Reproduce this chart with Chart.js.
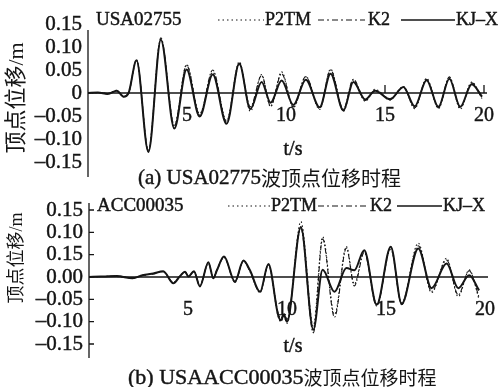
<!DOCTYPE html>
<html>
<head>
<meta charset="utf-8">
<script src="https://cdn.jsdelivr.net/npm/chart.js@4.4.1/dist/chart.umd.min.js"></script>
<style>
  body { margin: 0; background: #fff; }
  canvas { display: block; }
</style>
</head>
<body>
<canvas id="chartA" width="499" height="190"></canvas>
<canvas id="chartB" width="499" height="197"></canvas>
<script>
// (a) USA02775 - time (s) and top displacement (m)
const timeA = [0, 0.5, 1.0, 1.45, 1.8, 2.05, 2.45, 3.05, 3.68, 4.36, 4.98, 5.64, 6.3, 7.0, 7.64, 8.2,
  8.77, 9.22, 9.78, 10.37, 11.0, 11.7, 12.25, 12.9, 13.4, 14.0, 14.5, 15.25, 15.93, 16.5, 17.1,
  17.7, 18.25, 18.8, 19.38, 19.9];
const kjxA = [0, 0.001, -0.002, 0.005, -0.008, 0, 0.071, -0.128, 0.116, -0.077, 0.051, -0.051, 0.040, -0.067, 0.064, -0.035,
  0.024, -0.021, 0.027, -0.026, 0.029, -0.031, 0.042, -0.038, 0.024, -0.014, 0.005, -0.014, 0.013, -0.029, 0.028,
  -0.030, 0.031, -0.030, 0.019, -0.008];
const k2A = [0, 0.001, -0.002, 0.006, -0.008, 0, 0.072, -0.126, 0.12, -0.072, 0.06, -0.048, 0.05, -0.063, 0.062, -0.03,
  0.038, -0.028, 0.042, -0.03, 0.036, -0.034, 0.05, -0.035, 0.03, -0.016, 0.006, -0.012, 0.012, -0.032, 0.03,
  -0.032, 0.035, -0.032, 0.022, -0.01];
const p2tmA = [0, 0.001, -0.001, 0.005, -0.007, 0, 0.07, -0.124, 0.118, -0.07, 0.062, -0.045, 0.045, -0.06, 0.068, -0.04,
  0.04, -0.03, 0.046, -0.032, 0.035, -0.036, 0.052, -0.04, 0.028, -0.018, 0.008, -0.015, 0.014, -0.034, 0.032,
  -0.034, 0.034, -0.035, 0.024, -0.012];

// (b) USAACC00035
const timeB = [0, 0.6, 1.4, 2.2, 2.7, 3.25, 3.75, 4.26, 4.6, 4.85, 5.02, 5.3, 5.6, 6.03, 6.28, 6.45, 6.82, 7.37,
  7.8, 8.13, 8.64, 9.06, 9.55, 9.7, 9.84, 10.0, 10.7, 11.33, 11.8, 12.4, 13.0, 13.4, 13.9, 14.53, 15.24,
  15.79, 16.63, 17.3, 18.06, 18.65, 19.2, 19.7];
const kjxB = [0, 0.001, 0.002, -0.003, 0.004, 0.008, 0.013, -0.014, 0.002, 0.012, 0.001, 0.013, -0.021, 0.033, -0.003, 0.014, 0.046, -0.01,
  0.037, 0.015, -0.033, 0.029, -0.085, -0.097, -0.084, -0.1, 0.112, -0.118, 0.016, -0.033, 0.02, 0.015, 0.06, -0.062, 0.068,
  -0.06, 0.064, -0.025, 0.03, -0.025, 0.004, -0.03];
const k2B = [0, 0.001, 0.002, -0.002, 0.004, 0.007, 0.012, -0.012, 0.003, 0.011, 0.002, 0.012, -0.018, 0.03, -0.002, 0.015, 0.044, -0.012,
  0.035, 0.012, -0.035, 0.027, -0.08, -0.092, -0.08, -0.095, 0.108, -0.125, 0.085, -0.09, 0.065, -0.02, 0.055, -0.065, 0.066,
  -0.062, 0.07, -0.032, 0.038, -0.04, 0.014, -0.045];
const p2tmB = [0, 0.001, 0.001, -0.002, 0.003, 0.008, 0.012, -0.013, 0.002, 0.012, 0.001, 0.012, -0.02, 0.032, -0.004, 0.013, 0.045, -0.011,
  0.036, 0.014, -0.034, 0.028, -0.088, -0.1, -0.088, -0.104, 0.124, -0.11, 0.09, -0.084, 0.068, -0.016, 0.058, -0.06, 0.062,
  -0.058, 0.076, -0.035, 0.042, -0.044, 0.016, -0.05];

// axis ticks
const yTicks = [0.15, 0.10, 0.05, 0, -0.05, -0.10, -0.15];
const yLabelsA = ['0.15', '0.10', '0.05', '0', '–0.05', '–0.10', '–0.15'];
const yLabelsB = ['0.15', '0.10', '0.15', '0.00', '–0.05', '–0.10', '–0.15'];
const xTicks = [5, 10, 15, 20];
const xLabels = ['5', '10', '15', '20'];

const SERIF = '"Liberation Serif", "Noto Sans CJK SC", serif';
const CJK = '"Noto Sans CJK SC", sans-serif';
const INK = '#151515';

function points(t, v) {
  return t.map((x, i) => ({ x: x, y: v[i] }));
}

// text with a thin outline so it looks as heavy as the scanned figure
function heavyText(ctx, s, x, y) {
  ctx.fillText(s, x, y);
  ctx.strokeText(s, x, y);
}

// draws axes, labels, legend and caption around the plot
const figureText = {
  id: 'figureText',
  beforeDatasetsDraw(chart, args, o) {
    const ctx = chart.ctx, a = chart.chartArea;
    const y0 = chart.scales.y.getPixelForValue(0);
    ctx.save();
    ctx.strokeStyle = INK;
    ctx.lineWidth = 1.3;
    ctx.beginPath();
    ctx.moveTo(a.left, a.top);
    ctx.lineTo(a.left, a.bottom);
    ctx.moveTo(a.left, y0);
    ctx.lineTo(a.right + 3, y0);
    if (o.yTickMarks) {
      yTicks.forEach(v => {
        if (v === 0) return;
        const py = chart.scales.y.getPixelForValue(v);
        ctx.moveTo(a.left, py);
        ctx.lineTo(a.left + 5, py);
      });
    }
    o.zeroTicks.forEach(v => {
      const px = chart.scales.x.getPixelForValue(v);
      ctx.moveTo(px, y0);
      ctx.lineTo(px, y0 - 8);
    });
    ctx.stroke();
    ctx.restore();
  },
  afterDraw(chart, args, o) {
    const ctx = chart.ctx, a = chart.chartArea;
    const xs = chart.scales.x, ys = chart.scales.y;
    const y0 = ys.getPixelForValue(0);
    ctx.save();
    ctx.fillStyle = INK;
    ctx.strokeStyle = INK;
    ctx.lineWidth = 0.45;
    ctx.textBaseline = 'middle';

    // y tick labels
    ctx.font = o.tickSize + 'px ' + SERIF;
    ctx.textAlign = 'right';
    yTicks.forEach((v, i) => heavyText(ctx, o.yLabels[i], a.left - 6, ys.getPixelForValue(v)));

    // x tick labels, just under the zero line
    ctx.font = '20px ' + SERIF;
    ctx.textAlign = 'center';
    xTicks.forEach((v, i) => heavyText(ctx, xLabels[i], xs.getPixelForValue(v), y0 + o.xLabelDy));
    heavyText(ctx, 't/s', 293, o.tsY);

    // y title
    ctx.save();
    ctx.translate(o.titleX, o.titleY);
    ctx.rotate(-Math.PI / 2);
    ctx.font = o.titleSize + 'px ' + SERIF;
    ctx.fillText('顶点位移/m', 0, 0);
    ctx.restore();

    // station name and legend
    ctx.textAlign = 'left';
    ctx.font = '19px ' + SERIF;
    heavyText(ctx, o.station, a.left + 8, o.legendY);
    ctx.font = '18px ' + SERIF;
    const L = o.legend;
    const seg = (x1, x2, dash, w) => {
      ctx.save();
      ctx.setLineDash(dash);
      ctx.lineWidth = w;
      ctx.beginPath();
      ctx.moveTo(x1, o.legendY);
      ctx.lineTo(x2, o.legendY);
      ctx.stroke();
      ctx.restore();
    };
    seg(L[0], L[1], [1.5, 3], 1.2);
    heavyText(ctx, 'P2TM', L[1] + 1, o.legendY);
    seg(L[2], L[3], [6, 3, 2, 3], 1.2);
    heavyText(ctx, 'K2', L[3] + 3, o.legendY);
    seg(L[4], L[5], [], 1.6);
    heavyText(ctx, 'KJ–X', L[5] + 1, o.legendY);

    // caption
    ctx.font = o.capLatin + 'px ' + SERIF;
    heavyText(ctx, o.capA, o.capX, o.capY);
    const w = ctx.measureText(o.capA).width;
    ctx.font = o.capCjk + 'px ' + CJK;
    ctx.fillText(o.capB, o.capX + w, o.capY);
    ctx.restore();
  }
};

function makeChart(id, t, kjx, k2, p2tm, look) {
  const line = (label, v, dash, w) => ({
    label: label,
    data: points(t, v),
    borderColor: INK,
    borderWidth: w,
    borderDash: dash,
    pointRadius: 0,
    fill: false,
    cubicInterpolationMode: 'monotone'
  });
  return new Chart(document.getElementById(id), {
    type: 'line',
    data: {
      datasets: [
        line('KJ-X', kjx, [], 2),
        line('K2', k2, [5, 2, 1.5, 2], 1.1),
        line('P2TM', p2tm, [1.5, 2.5], 1.1)
      ]
    },
    options: {
      responsive: false,
      animation: false,
      layout: { padding: look.pad },
      scales: {
        x: { type: 'linear', min: 0, max: 20, display: false },
        y: { min: look.ymin, max: look.ymax, display: false }
      },
      plugins: {
        legend: { display: false },
        tooltip: { enabled: false },
        figureText: look
      }
    },
    plugins: [figureText]
  });
}

makeChart('chartA', timeA, kjxA, k2A, p2tmA, {
  ymin: -0.1826, ymax: 0.137,
  pad: { left: 88, right: 15, top: 30, bottom: 13 },
  yLabels: yLabelsA, yTickMarks: false, zeroTicks: [15, 20],
  tickSize: 21, titleX: 17, titleY: 98, titleSize: 22,
  xLabelDy: 23, tsY: 150, legendY: 20, station: 'USA02755',
  legend: [218, 264, 318, 365, 401, 455],
  capA: '(a) USA02775', capB: '波顶点位移时程', capX: 138, capY: 178, capLatin: 21, capCjk: 20
});

makeChart('chartB', timeB, kjxB, k2B, p2tmB, {
  ymin: -0.1813, ymax: 0.1657,
  pad: { left: 89, right: 14, top: 13, bottom: 29 },
  yLabels: yLabelsB, yTickMarks: true, zeroTicks: [],
  tickSize: 21, titleX: 17, titleY: 68, titleSize: 18,
  xLabelDy: 33, tsY: 157, legendY: 16, station: 'ACC00035',
  legend: [228, 270, 318, 367, 397, 442],
  capA: '(b) USAACC00035', capB: '波顶点位移时程', capX: 128, capY: 188, capLatin: 22, capCjk: 19
});
</script>
</body>
</html>
